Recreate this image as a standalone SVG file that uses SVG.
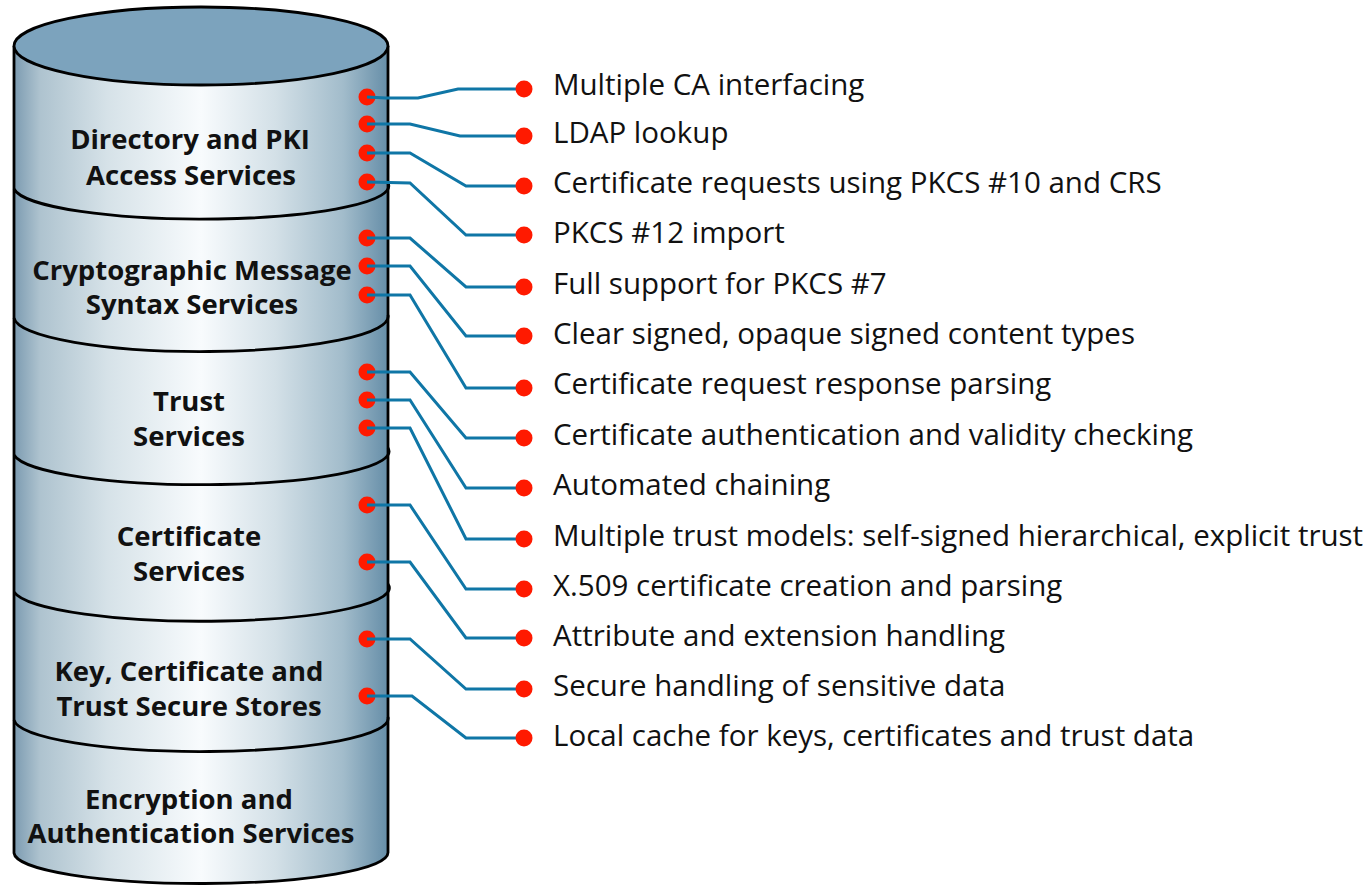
<svg xmlns="http://www.w3.org/2000/svg" width="1371" height="885" viewBox="0 0 1371 885">
  <defs>
    <linearGradient id="bodyShade" x1="14" y1="0" x2="388" y2="0" gradientUnits="userSpaceOnUse">
      <stop offset="0" stop-color="#7c9bb1"/>
      <stop offset="0.07" stop-color="#aec3cf"/>
      <stop offset="0.25" stop-color="#d6e2e8"/>
      <stop offset="0.5" stop-color="#f8fbfd"/>
      <stop offset="0.7" stop-color="#d3e0e7"/>
      <stop offset="0.88" stop-color="#a2bccb"/>
      <stop offset="1" stop-color="#668ea8"/>
    </linearGradient>
  </defs>
  <style>
    .outline { stroke: #000; stroke-width: 2.8; fill: none; }
    .layer-title { font-family: "Open Sans", "Liberation Sans", sans-serif; font-weight: 700; font-size: 27.5px; fill: #111; text-anchor: middle; }
    .feature { font-family: "Open Sans", "Liberation Sans", sans-serif; font-size: 29.5px; fill: #111; }
    .dot { fill: #ff1a00; }
    .link { stroke: #0f76a6; stroke-width: 3; fill: none; stroke-linejoin: miter; }
  </style>

  <!-- cylinder body and lid -->
  <g id="cylinder">
    <path d="M14,46 L14,853 A187,31 0 0 0 388,852 L388,46 Z" fill="url(#bodyShade)"/>
    <path class="outline" d="M14,46 L14,853 A187,31 0 0 0 388,852 L388,46"/>
    <ellipse cx="201" cy="46" rx="187" ry="39" fill="#7ca3bd" stroke="#000" stroke-width="2.8"/>
  </g>

  <!-- stacked service layers -->
  <g id="layer-directory">
    <path class="outline" d="M14,189 A187,33 0 0 0 388,183"/>
    <text class="layer-title" x="190" y="149">Directory and PKI</text>
    <text class="layer-title" x="191" y="185">Access Services</text>
    <circle class="dot" cx="367" cy="97" r="8.5"/>
    <circle class="dot" cx="367" cy="124" r="8.5"/>
    <circle class="dot" cx="367" cy="153" r="8.5"/>
    <circle class="dot" cx="367" cy="182" r="8.5"/>
  </g>
  <g id="layer-cms">
    <path class="outline" d="M14,318 A187,35 0 0 0 388,315"/>
    <text class="layer-title" x="192" y="280">Cryptographic Message</text>
    <text class="layer-title" x="192" y="314">Syntax Services</text>
    <circle class="dot" cx="367" cy="238" r="8.5"/>
    <circle class="dot" cx="367" cy="266" r="8.5"/>
    <circle class="dot" cx="367" cy="295" r="8.5"/>
  </g>
  <g id="layer-trust">
    <path class="outline" d="M14,455 A187,33 0 0 0 388,448"/>
    <text class="layer-title" x="189" y="411">Trust</text>
    <text class="layer-title" x="189" y="446">Services</text>
    <circle class="dot" cx="367" cy="372" r="8.5"/>
    <circle class="dot" cx="367" cy="400" r="8.5"/>
    <circle class="dot" cx="367" cy="428" r="8.5"/>
  </g>
  <g id="layer-certificate">
    <path class="outline" d="M14,592 A187,33 0 0 0 388,584"/>
    <text class="layer-title" x="189" y="546">Certificate</text>
    <text class="layer-title" x="189" y="581">Services</text>
    <circle class="dot" cx="367" cy="505" r="8.5"/>
    <circle class="dot" cx="367" cy="562" r="8.5"/>
  </g>
  <g id="layer-stores">
    <path class="outline" d="M14,720 A187,33 0 0 0 388,717"/>
    <text class="layer-title" x="189" y="681">Key, Certificate and</text>
    <text class="layer-title" x="189" y="716">Trust Secure Stores</text>
    <circle class="dot" cx="367" cy="639" r="8.5"/>
    <circle class="dot" cx="367" cy="696" r="8.5"/>
  </g>
  <g id="layer-crypto">
    <text class="layer-title" x="189" y="809">Encryption and</text>
    <text class="layer-title" x="191" y="843">Authentication Services</text>
  </g>

  <!-- leader lines from layers to features -->
  <g id="connectors">
    <path class="link" d="M367,97 L386,98 L418,98 L458,89 L524,89"/>
    <path class="link" d="M367,124 L410,124 L460,136 L524,136"/>
    <path class="link" d="M367,153 L410,153 L466,186 L524,186"/>
    <path class="link" d="M367,182 L410,183 L466,235 L524,235"/>
    <path class="link" d="M367,238 L410,238 L466,287 L524,287"/>
    <path class="link" d="M367,266 L410,266 L466,336 L524,336"/>
    <path class="link" d="M367,295 L410,295 L466,388 L524,388"/>
    <path class="link" d="M367,372 L410,372 L466,438 L524,438"/>
    <path class="link" d="M367,400 L410,400 L466,488 L524,488"/>
    <path class="link" d="M367,428 L410,428 L466,539 L524,539"/>
    <path class="link" d="M367,505 L410,505 L466,589 L524,589"/>
    <path class="link" d="M367,562 L410,562 L466,638 L524,638"/>
    <path class="link" d="M367,639 L410,639 L466,689 L524,689"/>
    <path class="link" d="M367,696 L412,696 L466,738 L524,738"/>
  </g>

  <!-- feature list -->
  <g id="f01"><circle class="dot" cx="524" cy="89" r="8.5"/><text class="feature" x="553" y="95">Multiple CA interfacing</text></g>
  <g id="f02"><circle class="dot" cx="524" cy="136" r="8.5"/><text class="feature" x="553" y="143">LDAP lookup</text></g>
  <g id="f03"><circle class="dot" cx="524" cy="186" r="8.5"/><text class="feature" x="553" y="193">Certificate requests using PKCS #10 and CRS</text></g>
  <g id="f04"><circle class="dot" cx="524" cy="235" r="8.5"/><text class="feature" x="553" y="243">PKCS #12 import</text></g>
  <g id="f05"><circle class="dot" cx="524" cy="287" r="8.5"/><text class="feature" x="553" y="294">Full support for PKCS #7</text></g>
  <g id="f06"><circle class="dot" cx="524" cy="336" r="8.5"/><text class="feature" x="553" y="344">Clear signed, opaque signed content types</text></g>
  <g id="f07"><circle class="dot" cx="524" cy="388" r="8.5"/><text class="feature" x="553" y="394">Certificate request response parsing</text></g>
  <g id="f08"><circle class="dot" cx="524" cy="438" r="8.5"/><text class="feature" x="553" y="445">Certificate authentication and validity checking</text></g>
  <g id="f09"><circle class="dot" cx="524" cy="488" r="8.5"/><text class="feature" x="553" y="495">Automated chaining</text></g>
  <g id="f10"><circle class="dot" cx="524" cy="539" r="8.5"/><text class="feature" x="553" y="546">Multiple trust models: self-signed hierarchical, explicit trust</text></g>
  <g id="f11"><circle class="dot" cx="524" cy="589" r="8.5"/><text class="feature" x="553" y="596">X.509 certificate creation and parsing</text></g>
  <g id="f12"><circle class="dot" cx="524" cy="638" r="8.5"/><text class="feature" x="553" y="646">Attribute and extension handling</text></g>
  <g id="f13"><circle class="dot" cx="524" cy="689" r="8.5"/><text class="feature" x="553" y="696">Secure handling of sensitive data</text></g>
  <g id="f14"><circle class="dot" cx="524" cy="738" r="8.5"/><text class="feature" x="553" y="746">Local cache for keys, certificates and trust data</text></g>
</svg>
